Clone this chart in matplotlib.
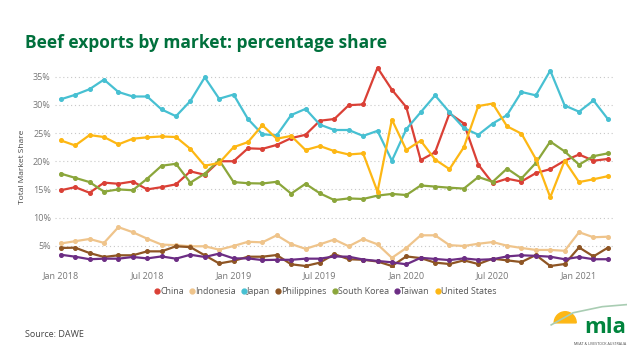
import matplotlib
matplotlib.use("Agg")
import matplotlib.pyplot as plt
from matplotlib.patches import Wedge
from matplotlib.lines import Line2D

plt.rcParams['font.family'] = ['Open Sans', 'DejaVu Sans']

# months Jan 2018 .. Mar 2021
n_months = 39
tick_pos = [0, 6, 12, 18, 24, 30, 36]
tick_labels = ["Jan 2018", "Jul 2018", "Jan 2019", "Jul 2019", "Jan 2020", "Jul 2020", "Jan 2021"]
y_ticks = [5, 10, 15, 20, 25, 30, 35]

markets = ["China", "Indonesia", "Japan", "Philippines", "South Korea", "Taiwan", "United States"]
colors = ["#DA4036", "#EFC48B", "#47C0D2", "#8E5524", "#8BA63B", "#6C2D84", "#FDB714"]

china = [14.85, 15.4, 14.4, 16.2, 16.0, 16.4, 15.0, 15.4, 15.9, 18.2, 17.6, 20.0, 20.0,
         22.3, 22.2, 22.9, 24.1, 24.7, 27.2, 27.5, 29.95, 30.1, 36.6, 32.7, 29.6, 20.2, 21.6,
         28.5, 26.7, 19.4, 16.1, 16.9, 16.4, 17.9, 18.6, 20.1, 21.2, 20.1, 20.4]
indonesia = [5.4, 5.8, 6.2, 5.5, 8.3, 7.4, 6.25, 5.2, 5.1, 4.9, 4.9, 4.3, 4.95, 5.7,
             5.6, 6.85, 5.3, 4.45, 5.25, 6.1, 4.9, 6.2, 5.25, 2.85, 4.6, 6.85, 6.85,
             5.1, 4.95, 5.35, 5.65, 5.0, 4.6, 4.25, 4.25, 4.1, 7.4, 6.5, 6.6]
japan = [31.0, 31.8, 32.8, 34.5, 32.3, 31.5, 31.5, 29.2, 28.0, 30.7, 34.9, 31.1, 31.85,
         27.5, 24.8, 24.6, 28.2, 29.3, 26.5, 25.55, 25.55, 24.5, 25.4, 20.1, 25.7, 28.7, 31.7,
         28.7, 25.9, 24.7, 26.7, 28.2, 32.3, 31.7, 36.1, 29.9, 28.8, 30.8, 27.5]
philippines = [4.6, 4.65, 3.7, 3.0, 3.3, 3.3, 4.0, 4.0, 4.9, 4.75, 3.3, 1.85, 2.3, 3.05,
               3.05, 3.35, 1.7, 1.4, 2.0, 3.5, 2.6, 2.5, 2.2, 1.4, 3.1, 2.8, 2.0,
               1.75, 2.4, 1.75, 2.7, 2.4, 2.1, 3.35, 1.4, 1.75, 4.7, 3.1, 4.65]
south_korea = [17.8, 17.05, 16.3, 14.6, 15.0, 14.85, 16.9, 19.2, 19.55, 16.2, 17.8, 20.2, 16.3,
               16.1, 16.05, 16.35, 14.25, 16.0, 14.3, 13.1, 13.4, 13.3, 13.9, 14.2, 14.0, 15.7, 15.5,
               15.3, 15.15, 17.2, 16.35, 18.7, 16.95, 19.7, 23.5, 21.75, 19.4, 20.9, 21.4]
taiwan = [3.4, 3.05, 2.6, 2.7, 2.7, 3.0, 2.75, 3.1, 2.7, 3.4, 3.0, 3.6, 2.75, 2.75,
          2.45, 2.5, 2.5, 2.7, 2.7, 3.1, 3.05, 2.55, 2.3, 2.05, 1.7, 2.85, 2.65,
          2.45, 2.75, 2.5, 2.6, 3.1, 3.3, 3.2, 3.05, 2.6, 3.0, 2.6, 2.6]
united_states = [23.7, 22.8, 24.65, 24.3, 23.0, 24.0, 24.25, 24.4, 24.3, 22.2, 19.2, 19.7, 22.5,
                 23.4, 26.4, 24.0, 24.5, 22.0, 22.7, 21.8, 21.2, 21.4, 14.6, 27.4, 22.0, 23.65, 20.3,
                 18.6, 22.5, 29.8, 30.25, 26.2, 24.9, 20.4, 13.6, 20.1, 16.3, 16.8, 17.35]

series = [china, indonesia, japan, philippines, south_korea, taiwan, united_states]

fig = plt.figure(figsize=(6.4, 3.6), dpi=100)
ax = fig.add_axes([0.086, 0.258, 0.875, 0.56])

x = list(range(n_months))
for vals, c in zip(series, colors):
    ax.plot(x, vals, color=c, lw=1.6, marker='o', markersize=2.6, zorder=3)

ax.set_xlim(-0.4, 38.5)
ax.set_ylim(1.2, 37.0)
ax.set_yticks(y_ticks)
ax.set_yticklabels([f"{v}%" for v in y_ticks])
ax.set_xticks(tick_pos)
ax.set_xticklabels(tick_labels)
ax.tick_params(length=0, labelsize=6.5, colors="#777777", pad=3)
ax.grid(axis='y', ls=(0, (1, 2.5)), color="#C8C8C8", lw=0.8)
for s in ax.spines.values():
    s.set_visible(False)
ax.set_ylabel("Total Market Share", fontsize=6, color="#444444", labelpad=5)

handles = [Line2D([], [], ls='none', marker='o', markersize=3.5, color=c) for c in colors]
fig.legend(handles, markets, loc='center', bbox_to_anchor=(0.507, 0.189), ncol=7, frameon=False,
           fontsize=6.4, labelcolor="#555555", handletextpad=-0.2, columnspacing=0.45, handlelength=1.0)

fig.text(0.039, 0.88, "Beef exports by market: percentage share", fontsize=12.5,
         fontweight='bold', color="#00703C", va='center')
fig.text(0.039, 0.072, "Source: DAWE", fontsize=6.5, color="#444444", va='center')

# MLA logo
lax = fig.add_axes([0.855, 0.03, 0.125, 0.135])
lax.set_xlim(0, 80)
lax.set_ylim(0, 48)
lax.axis('off')
lax.add_patch(Wedge((18, 26), 11, 0, 180, color="#FDB714"))
lax.plot([4, 26, 55, 79], [24, 36, 42, 44], color="#A9CDB3", lw=1.2)
lax.text(79, 21, "mla", fontsize=16, fontweight='bold', color="#00843D", ha='right', va='center')
lax.text(79, 5, "MEAT & LIVESTOCK AUSTRALIA", fontsize=2.6, color="#444444", ha='right', va='center')

fig.savefig("out.png", dpi=100)
